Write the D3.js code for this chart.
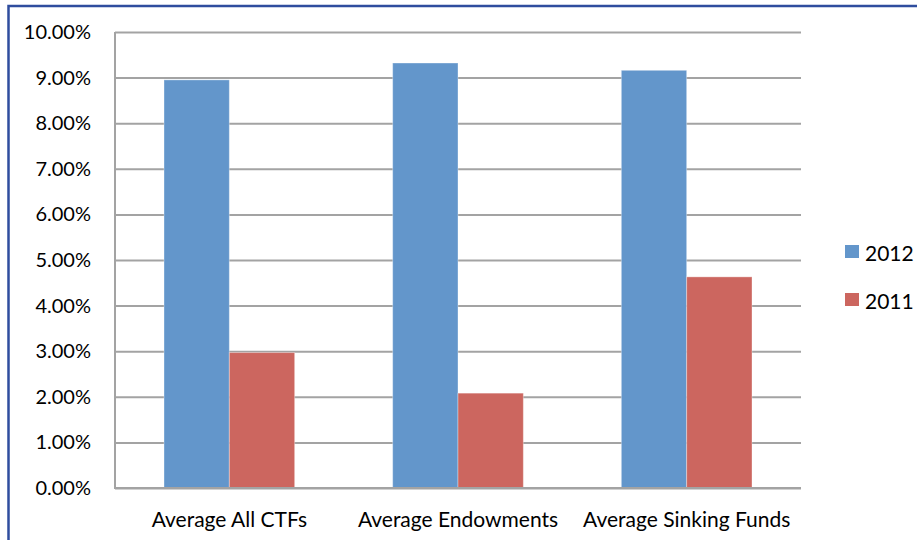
<!DOCTYPE html>
<html lang="en">
<head>
  <meta charset="UTF-8">
  <title>CTF Average Returns 2012 vs 2011</title>
  <style>
    body {
      margin: 0;
      background: #fff;
      font-family: Lato, "Open Sans", sans-serif;
    }
    svg text {
      fill: #000;
    }
  </style>
</head>
<body>
  <div id="chart"></div>

  <script src="https://d3js.org/d3.v7.min.js"></script>
  <script>
    // Chart data
    const categories = ["Average All CTFs", "Average Endowments", "Average Sinking Funds"];
    const seriesNames = ["2012", "2011"];
    const values2012 = [8.95, 9.32, 9.16];
    const values2011 = [2.97, 2.08, 4.63];
    const yTicks = [0, 1, 2, 3, 4, 5, 6, 7, 8, 9, 10];

    const seriesValues = { "2012": values2012, "2011": values2011 };
    const colors = { "2012": "#6396cb", "2011": "#cc665f" };

    const width = 917;
    const height = 540;
    const margin = { top: 32, right: 116, bottom: 52, left: 115 };

    const svg = d3.select("#chart").append("svg")
      .attr("width", width)
      .attr("height", height);

    // outer frame (only top and left edges are visible)
    svg.append("rect")
      .attr("x", 8.5)
      .attr("y", 6)
      .attr("width", width + 20)
      .attr("height", height + 20)
      .attr("fill", "none")
      .attr("stroke", "#2f4d9e")
      .attr("stroke-width", 2.5);

    const x0 = d3.scaleBand()
      .domain(categories)
      .range([margin.left, width - margin.right])
      .padding(0);

    const x1 = d3.scaleBand()
      .domain(seriesNames)
      .range([0, x0.bandwidth()])
      .paddingInner(0)
      .paddingOuter(0.75);

    const y = d3.scaleLinear()
      .domain([0, 10])
      .range([height - margin.bottom, margin.top]);

    const plotW = width - margin.left - margin.right;

    // y axis with gridlines
    const yAxis = svg.append("g")
      .attr("transform", `translate(${margin.left},0)`)
      .call(d3.axisLeft(y)
        .tickValues(yTicks)
        .tickSize(-plotW)
        .tickPadding(24)
        .tickFormat(d => d.toFixed(2) + "%"));

    yAxis.select(".domain").remove();
    yAxis.selectAll("line")
      .attr("stroke", "#a3a3a3")
      .attr("stroke-width", 2);
    yAxis.selectAll("text")
      .attr("font-family", "Lato, sans-serif")
      .attr("font-size", 20)
      .attr("fill", "#000");

    // left axis line
    svg.append("line")
      .attr("x1", margin.left)
      .attr("x2", margin.left)
      .attr("y1", y(10))
      .attr("y2", y(0))
      .attr("stroke", "#a3a3a3")
      .attr("stroke-width", 2);

    // bars
    const groups = svg.selectAll(".group")
      .data(categories)
      .enter()
      .append("g")
      .attr("class", "group")
      .attr("transform", d => `translate(${x0(d)},0)`);

    groups.selectAll("rect")
      .data((d, i) => seriesNames.map(s => ({ key: s, value: seriesValues[s][i] })))
      .enter()
      .append("rect")
      .attr("x", d => x1(d.key))
      .attr("y", d => y(d.value))
      .attr("width", x1.bandwidth())
      .attr("height", d => y(0) - y(d.value))
      .attr("fill", d => colors[d.key])
      .attr("stroke", "rgba(255,255,255,0.35)")
      .attr("stroke-width", 1);

    // x axis line on top of bars
    svg.append("line")
      .attr("x1", margin.left - 1)
      .attr("x2", width - margin.right)
      .attr("y1", y(0))
      .attr("y2", y(0))
      .attr("stroke", "#a3a3a3")
      .attr("stroke-width", 2);

    const xAxis = svg.append("g")
      .attr("transform", `translate(0,${y(0)})`)
      .call(d3.axisBottom(x0).tickSize(0).tickPadding(24));

    xAxis.select(".domain").remove();
    xAxis.selectAll("text")
      .attr("font-family", "Lato, sans-serif")
      .attr("font-size", 21)
      .attr("fill", "#000");

    // legend
    const legend = svg.append("g")
      .attr("transform", "translate(845,245)");

    const items = legend.selectAll(".item")
      .data(seriesNames)
      .enter()
      .append("g")
      .attr("class", "item")
      .attr("transform", (d, i) => `translate(0,${i * 48})`);

    items.append("rect")
      .attr("width", 14)
      .attr("height", 13)
      .attr("fill", d => colors[d]);

    items.append("text")
      .attr("x", 20)
      .attr("y", 7)
      .attr("dominant-baseline", "central")
      .attr("font-size", 21)
      .attr("font-family", "Lato, sans-serif")
      .text(d => d);
  </script>
</body>
</html>
